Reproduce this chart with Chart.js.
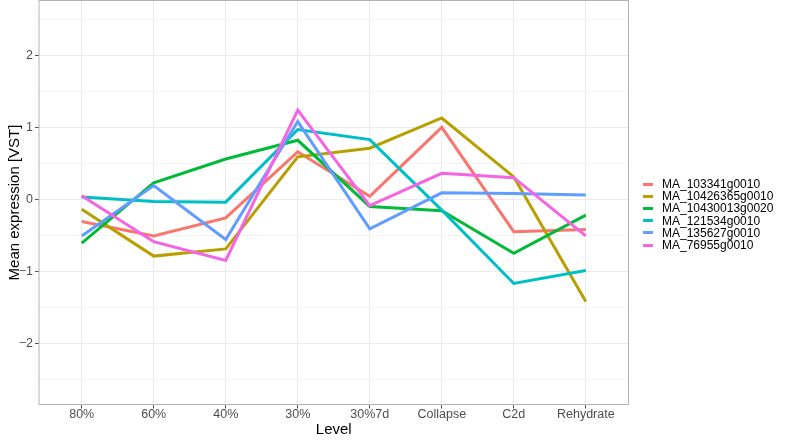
<!DOCTYPE html>
<html>
<head>
<meta charset="utf-8">
<script src="https://cdn.jsdelivr.net/npm/chart.js@4"></script>
<style>
  body { margin: 0; background: #fff; }
  #wrap { position: relative; width: 787px; height: 440px; }
  #leyenda { position: absolute; left: 643px; top: 178px; font-family: "Liberation Sans", Arial, sans-serif; font-size: 12px; color: #000; }
  .item { display: flex; align-items: center; height: 12.2px; white-space: nowrap; }
  .clave { width: 10px; height: 3px; margin-right: 9px; }
</style>
</head>
<body>
<div id="wrap">
  <canvas id="expresion" width="787" height="440"></canvas>
  <div id="leyenda"></div>
</div>
<script>
// Niveles y genes
const niveles = ['80%', '60%', '40%', '30%', '30%7d', 'Collapse', 'C2d', 'Rehydrate'];
const genes = ['MA_103341g0010', 'MA_10426365g0010', 'MA_10430013g0020', 'MA_121534g0010', 'MA_135627g0010', 'MA_76955g0010'];
const colores = ['#F8766D', '#B79F00', '#00BA38', '#00BFC4', '#619CFF', '#F564E3'];

// Expresion media [VST] por nivel
const g103341   = [-0.31, -0.51, -0.26, 0.66, 0.04, 1.00, -0.45, -0.42];
const g10426365 = [-0.14, -0.79, -0.69, 0.59, 0.71, 1.13, 0.31, -1.42];
const g10430013 = [-0.61, 0.23, 0.56, 0.82, -0.10, -0.16, -0.75, -0.22];
const g121534   = [0.03, -0.03, -0.04, 0.97, 0.83, -0.15, -1.17, -0.99];
const g135627   = [-0.51, 0.19, -0.56, 1.08, -0.41, 0.09, 0.08, 0.06];
const g76955    = [0.05, -0.59, -0.85, 1.24, -0.09, 0.36, 0.30, -0.51];
const series = [g103341, g10426365, g10430013, g121534, g135627, g76955];

Chart.defaults.font.family = '"Liberation Sans", Arial, sans-serif';

// marco gris alrededor del panel
const marco = {
  id: 'marco',
  afterDatasetsDraw(chart) {
    const { ctx, chartArea: a } = chart;
    ctx.save();
    ctx.strokeStyle = '#b3b3b3';
    ctx.lineWidth = 1;
    ctx.strokeRect(a.left + 0.5, a.top + 0.5, a.width - 1, a.height - 1);
    ctx.restore();
  }
};

const esEntero = v => Math.abs(v - Math.round(v)) < 1e-9;

new Chart(document.getElementById('expresion'), {
  type: 'line',
  data: {
    datasets: genes.map((g, i) => ({
      label: g,
      data: series[i].map((v, j) => ({ x: j, y: v })),
      borderColor: colores[i],
      backgroundColor: colores[i],
      borderWidth: 3,
      pointRadius: 0,
      fill: false,
      tension: 0,
      order: genes.length - i
    }))
  },
  options: {
    responsive: false,
    animation: false,
    layout: { padding: { top: 0, right: 158, bottom: 0, left: 0 } },
    plugins: { legend: { display: false }, tooltip: { enabled: false } },
    scales: {
      x: {
        type: 'linear',
        min: -0.6,
        max: 7.6,
        afterFit: s => { s.height = 35; s.paddingLeft = 0; s.paddingRight = 0; },
        border: { display: false },
        grid: { color: '#ebebeb', tickColor: '#555', tickLength: 3.5 },
        ticks: {
          stepSize: 1, includeBounds: false, autoSkip: false, maxRotation: 0, padding: 0,
          color: '#4d4d4d', font: { size: 12.5, lineHeight: 1 },
          callback: v => niveles[v] ?? ''
        },
        title: { display: true, text: 'Level', color: '#000', font: { size: 15 }, padding: { top: 0, bottom: 1 } }
      },
      y: {
        min: -2.86,
        max: 2.77,
        afterFit: s => { s.width = 38.5; s.paddingTop = 0; s.paddingBottom = 0; },
        border: { display: false },
        grid: {
          color: c => esEntero(c.tick.value) ? '#ebebeb' : '#f4f4f4',
          tickColor: c => esEntero(c.tick.value) ? '#555' : 'rgba(0,0,0,0)',
          tickLength: 3.5
        },
        ticks: {
          stepSize: 0.5, includeBounds: false, padding: 2,
          color: '#4d4d4d', font: { size: 12.5 },
          callback: v => esEntero(v) ? (v < 0 ? '\u2212' + Math.abs(v) : String(v)) : ''
        },
        title: { display: true, text: 'Mean expression [VST]', color: '#000', font: { size: 15 }, padding: { top: 5.5, bottom: 0 } }
      }
    }
  },
  plugins: [marco]
});

// leyenda
const leyenda = document.getElementById('leyenda');
genes.forEach((g, i) => {
  const fila = document.createElement('div');
  fila.className = 'item';
  fila.innerHTML = '<span class="clave" style="background:' + colores[i] + '"></span><span>' + g + '</span>';
  leyenda.appendChild(fila);
});
</script>
</body>
</html>
